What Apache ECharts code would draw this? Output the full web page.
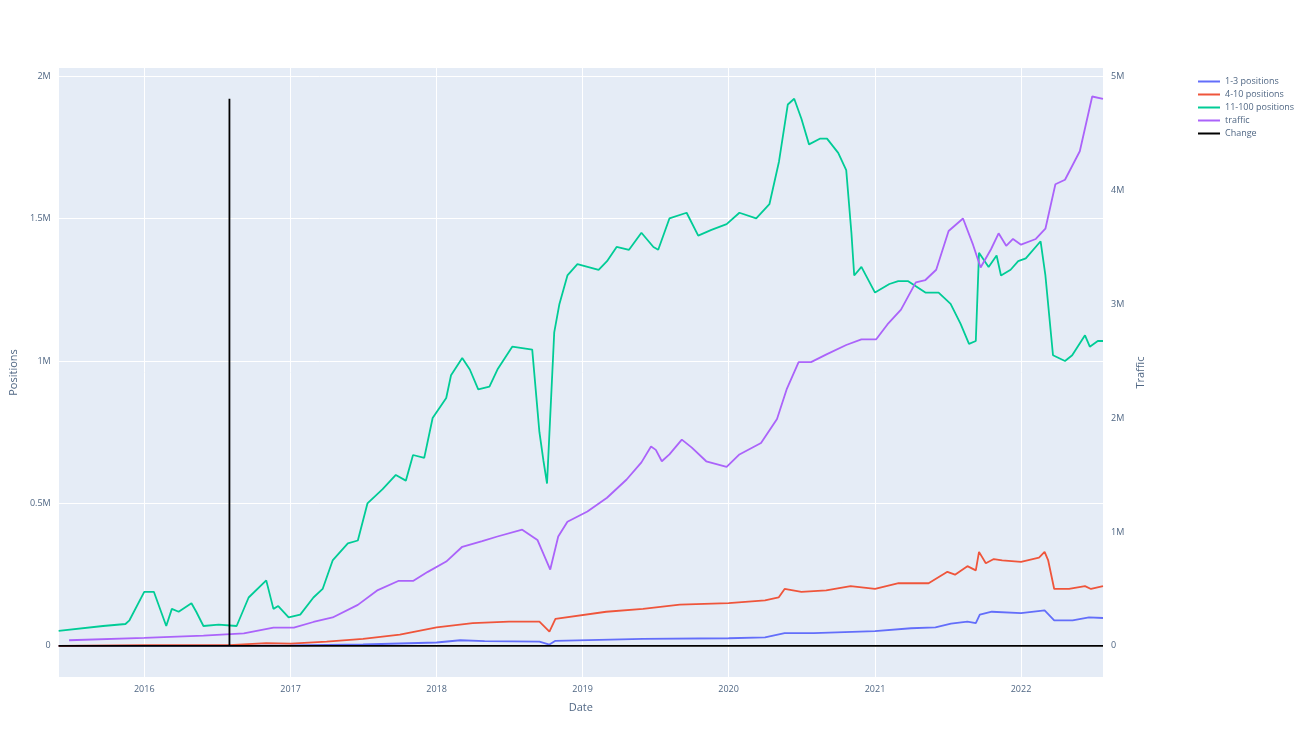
<!DOCTYPE html>
<html><head><meta charset="utf-8">
<script src="https://cdn.jsdelivr.net/npm/echarts@6/dist/echarts.min.js"></script>
<style>html,body{margin:0;padding:0;background:#fff}#c{width:1300px;height:731px}</style>
</head><body><div id="c"></div>
<script>
// values in millions
const pos13 = [["2015-06-01",0],["2016-08-01",0.001],["2017-01-01",0.002],["2017-07-01",0.005],["2018-01-01",0.012],["2018-03-01",0.02],["2018-05-01",0.017],["2018-09-15",0.015],["2018-10-10",0.005],["2018-10-25",0.018],["2019-06-01",0.025],["2020-01-01",0.027],["2020-04-01",0.03],["2020-05-20",0.045],["2020-08-01",0.045],["2021-01-01",0.052],["2021-04-01",0.062],["2021-06-01",0.065],["2021-07-10",0.078],["2021-08-20",0.085],["2021-09-10",0.08],["2021-09-20",0.11],["2021-10-20",0.12],["2022-01-01",0.115],["2022-03-01",0.125],["2022-03-25",0.09],["2022-05-10",0.09],["2022-06-20",0.1],["2022-07-25",0.098]];
const pos410 = [["2015-06-01",0],["2016-01-01",0.003],["2016-08-01",0.003],["2016-11-01",0.01],["2017-01-01",0.008],["2017-04-01",0.015],["2017-07-01",0.025],["2017-10-01",0.04],["2018-01-01",0.065],["2018-04-01",0.08],["2018-07-01",0.085],["2018-09-15",0.085],["2018-10-10",0.05],["2018-10-25",0.095],["2019-03-01",0.12],["2019-06-01",0.13],["2019-09-01",0.145],["2020-01-01",0.15],["2020-04-01",0.16],["2020-05-05",0.17],["2020-05-20",0.2],["2020-07-01",0.19],["2020-09-01",0.195],["2020-11-01",0.21],["2021-01-01",0.2],["2021-03-01",0.22],["2021-05-15",0.22],["2021-07-01",0.26],["2021-07-20",0.25],["2021-08-20",0.28],["2021-09-10",0.265],["2021-09-18",0.33],["2021-10-05",0.29],["2021-10-25",0.305],["2021-11-15",0.3],["2022-01-01",0.295],["2022-02-15",0.31],["2022-03-01",0.33],["2022-03-10",0.3],["2022-03-25",0.2],["2022-05-01",0.2],["2022-06-10",0.21],["2022-06-25",0.2],["2022-07-25",0.21]];
const pos11100 = [["2015-06-01",0.053],["2015-09-20",0.07],["2015-11-15",0.077],["2015-11-25",0.09],["2016-01-01",0.19],["2016-01-25",0.19],["2016-02-25",0.07],["2016-03-10",0.13],["2016-03-27",0.12],["2016-04-28",0.15],["2016-05-10",0.12],["2016-05-28",0.07],["2016-07-05",0.075],["2016-08-19",0.07],["2016-09-18",0.17],["2016-11-01",0.23],["2016-11-19",0.13],["2016-12-01",0.14],["2016-12-27",0.1],["2017-01-25",0.11],["2017-02-27",0.17],["2017-03-22",0.2],["2017-04-16",0.3],["2017-05-24",0.36],["2017-06-18",0.37],["2017-07-12",0.5],["2017-08-19",0.55],["2017-09-21",0.6],["2017-10-16",0.58],["2017-11-03",0.67],["2017-12-01",0.66],["2017-12-22",0.8],["2018-01-25",0.87],["2018-02-06",0.95],["2018-03-06",1.01],["2018-03-25",0.97],["2018-04-15",0.9],["2018-05-13",0.91],["2018-06-02",0.97],["2018-07-09",1.05],["2018-08-28",1.04],["2018-09-15",0.75],["2018-09-25",0.65],["2018-10-04",0.57],["2018-10-22",1.1],["2018-11-04",1.2],["2018-11-24",1.3],["2018-12-19",1.34],["2019-02-10",1.32],["2019-03-03",1.35],["2019-03-27",1.4],["2019-04-27",1.39],["2019-05-28",1.45],["2019-06-27",1.4],["2019-07-09",1.39],["2019-08-06",1.5],["2019-09-18",1.52],["2019-10-17",1.44],["2019-11-19",1.46],["2019-12-27",1.48],["2020-01-28",1.52],["2020-03-10",1.5],["2020-04-12",1.55],["2020-05-06",1.7],["2020-05-28",1.9],["2020-06-13",1.92],["2020-07-01",1.85],["2020-07-20",1.76],["2020-08-16",1.78],["2020-09-03",1.78],["2020-10-01",1.73],["2020-10-21",1.67],["2020-11-03",1.45],["2020-11-10",1.3],["2020-11-28",1.33],["2021-01-01",1.24],["2021-02-06",1.27],["2021-02-28",1.28],["2021-03-25",1.28],["2021-05-07",1.24],["2021-06-09",1.24],["2021-07-09",1.2],["2021-08-03",1.13],["2021-08-24",1.06],["2021-09-10",1.07],["2021-09-18",1.38],["2021-10-12",1.33],["2021-11-01",1.37],["2021-11-12",1.3],["2021-12-06",1.32],["2021-12-25",1.35],["2022-01-13",1.36],["2022-02-19",1.42],["2022-03-03",1.3],["2022-03-22",1.02],["2022-04-21",1.0],["2022-05-09",1.02],["2022-06-10",1.09],["2022-06-22",1.05],["2022-07-12",1.07],["2022-07-25",1.07]];
const traffic = [["2015-06-27",0.05],["2016-01-01",0.07],["2016-05-28",0.09],["2016-09-06",0.11],["2016-11-19",0.16],["2017-01-09",0.16],["2017-02-27",0.21],["2017-04-16",0.25],["2017-06-18",0.36],["2017-08-07",0.49],["2017-09-27",0.57],["2017-11-03",0.57],["2017-12-10",0.65],["2018-01-25",0.74],["2018-03-06",0.87],["2018-04-25",0.92],["2018-06-02",0.96],["2018-08-03",1.02],["2018-09-10",0.93],["2018-10-12",0.67],["2018-11-01",0.96],["2018-11-24",1.09],["2019-01-13",1.18],["2019-03-03",1.3],["2019-04-21",1.46],["2019-05-28",1.61],["2019-06-21",1.75],["2019-07-03",1.72],["2019-07-18",1.62],["2019-08-06",1.68],["2019-09-06",1.81],["2019-10-01",1.74],["2019-11-06",1.62],["2019-12-27",1.57],["2020-01-28",1.68],["2020-03-22",1.78],["2020-05-01",1.99],["2020-05-25",2.25],["2020-06-24",2.49],["2020-07-25",2.49],["2020-09-03",2.56],["2020-10-21",2.64],["2020-11-28",2.69],["2021-01-04",2.69],["2021-02-01",2.82],["2021-03-07",2.95],["2021-04-13",3.19],["2021-05-07",3.21],["2021-06-03",3.30],["2021-07-04",3.64],["2021-08-09",3.75],["2021-09-03",3.52],["2021-09-22",3.32],["2021-10-18",3.48],["2021-11-06",3.62],["2021-11-25",3.51],["2021-12-12",3.57],["2022-01-01",3.52],["2022-02-07",3.57],["2022-03-03",3.66],["2022-03-28",4.05],["2022-04-21",4.09],["2022-05-28",4.34],["2022-06-28",4.82],["2022-07-25",4.80]];
const change = [["2015-06-01",0],["2016-08-01",0],["2016-08-01",1.92],["2016-08-01",0],["2022-07-25",0]];
const leftTicks = [0,0.5,1,1.5,2];
const rightTicks = [0,1,2,3,4,5];

const M = a => a.map(d => [d[0], d[1]*1e6]);
const fmtM = v => v===0 ? '0' : (Math.round(v/1e5)/10)+'M';
const txt = '#506784';
const YEAR = 365.25*24*3600*1000;
const chart = echarts.init(document.getElementById('c'));
const ln = (name, data, color, yi) => ({name, type:'line', data:M(data), yAxisIndex:yi, symbol:'none', lineStyle:{width:1.8,color}, itemStyle:{color}, z: name==='Change'?5:3});
chart.setOption({
  animation:false,
  textStyle:{fontFamily:'Open Sans, Noto Sans, sans-serif'},
  grid:{left:55,right:197,top:68,bottom:54,show:true,backgroundColor:'#E5ECF6',borderWidth:0},
  legend:{orient:'vertical',left:1193,top:72,itemWidth:22,itemHeight:2,itemGap:4,icon:'rect',textStyle:{fontSize:9,color:txt},
    data:['1-3 positions','4-10 positions','11-100 positions','traffic','Change']},
  xAxis:{type:'time',min:+new Date('2015-06-01'),max:+new Date('2022-07-25'),minInterval:YEAR*0.99,maxInterval:YEAR*1.01,
    name:'Date',nameLocation:'middle',nameGap:25,nameTextStyle:{color:txt,fontSize:11},
    axisLine:{show:false},axisTick:{show:false},
    axisLabel:{color:txt,fontSize:9,formatter:v=>{const d=new Date(v);return (d.getMonth()===0&&d.getDate()===1)?String(d.getFullYear()):'';}},
    splitLine:{show:true,lineStyle:{color:'#fff',width:1}}},
  yAxis:[
    {type:'value',min:-0.109e6,max:2.028e6,name:'Positions',nameLocation:'middle',nameGap:38,nameTextStyle:{color:txt,fontSize:11},
      axisLine:{show:false},axisTick:{show:false,customValues:leftTicks.map(v=>v*1e6)},
      axisLabel:{color:txt,fontSize:9,customValues:leftTicks.map(v=>v*1e6),formatter:fmtM},
      splitLine:{show:true,lineStyle:{color:'#fff',width:1}}},
    {type:'value',min:-0.2725e6,max:5.07e6,name:'Traffic',nameLocation:'middle',nameGap:24,nameTextStyle:{color:txt,fontSize:11},
      axisLine:{show:false},axisTick:{show:false,customValues:rightTicks.map(v=>v*1e6)},
      axisLabel:{color:txt,fontSize:9,customValues:rightTicks.map(v=>v*1e6),formatter:fmtM},
      splitLine:{show:false}}
  ],
  series:[
    ln('1-3 positions',pos13,'#636EFA',0),
    ln('4-10 positions',pos410,'#EF553B',0),
    ln('11-100 positions',pos11100,'#00CC96',0),
    ln('traffic',traffic,'#AB63FA',1),
    ln('Change',change,'#000000',0)
  ]
});
</script></body></html>
